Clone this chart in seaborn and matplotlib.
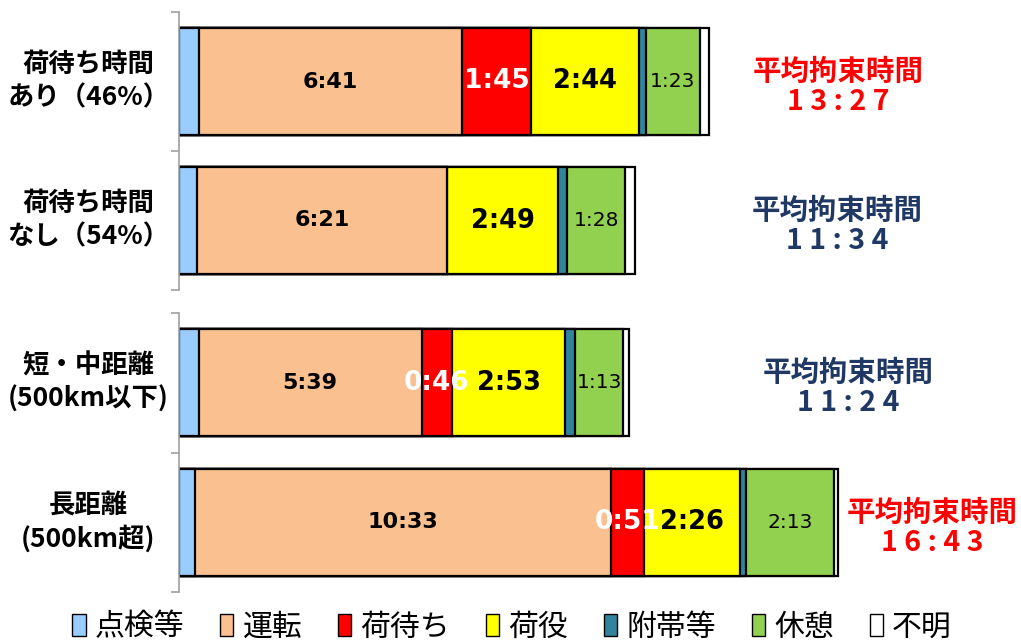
import matplotlib
matplotlib.use("Agg")
import matplotlib.pyplot as plt
from matplotlib.patches import Patch
import numpy as np
import pandas as pd
import seaborn as sns

# data (minutes)
labels = ['荷待ち時間\nあり（46%）', '荷待ち時間\nなし（54%）',
          '短・中距離\n(500km以下)', '長距離\n(500km超)']
inspection = [30, 27, 30, 24]
driving = [401, 381, 339, 633]
waiting = [105, 0, 46, 51]
cargo = [164, 169, 173, 146]
incidental = [10, 14, 15, 9]
rest = [83, 88, 73, 133]
unknown = [14, 15, 8, 7]
totals = ['13:27', '11:34', '11:24', '16:43']
total_colors = ['#FF0000', '#1F3864', '#1F3864', '#FF0000']
total_x = [1003, 1002, 1018, 1146]

seg_names = ['点検等', '運転', '荷待ち', '荷役', '附帯等', '休憩', '不明']
seg_colors = ['#99CCFF', '#FAC090', '#FF0000', '#FFFF00', '#31849B', '#92D050', '#FFFFFF']

sns.set_theme(style='white')
plt.rcParams['font.family'] = ['Noto Sans CJK JP', 'DejaVu Sans']
plt.rcParams['text.color'] = 'black'

df = pd.DataFrame({'label': labels, '点検等': inspection, '運転': driving,
                   '荷待ち': waiting, '荷役': cargo, '附帯等': incidental,
                   '休憩': rest, '不明': unknown})
cum = df[seg_names].cumsum(axis=1)


def hm(m):
    return f'{m // 60}:{m % 60:02d}'


fig = plt.figure(figsize=(10.21, 6.43), dpi=100)
W = 1021.0
H = 643.0
ax1 = fig.add_axes([179 / W, 1 - 290 / H, 1 - 179 / W, 278 / H])
ax2 = fig.add_axes([179 / W, 1 - 592 / H, 1 - 179 / W, 279 / H])

for k, ax in enumerate([ax1, ax2]):
    rows = [2 * k, 2 * k + 1]
    sub = df.iloc[rows]
    subcum = cum.iloc[rows]
    # stacked: draw cumulative bars from longest to shortest
    for i in range(len(seg_names) - 1, -1, -1):
        sns.barplot(x=subcum[seg_names[i]].values, y=sub['label'].values, orient='h',
                    color=seg_colors[i], saturation=1, edgecolor='black',
                    linewidth=1.6, width=0.77, ax=ax)
    ax.set_xlim(0, 1281)
    ax.set_ylim(1.5, -0.5)
    ax.set_xlabel('')
    ax.set_ylabel('')
    ax.set_xticks([])
    ax.set_yticks([-0.5, 0.5, 1.5])
    ax.set_yticklabels([])
    ax.tick_params(axis='y', length=6, width=1.2, color='#A0A0A0', direction='out', left=True)
    for s in ['top', 'right', 'bottom']:
        ax.spines[s].set_visible(False)
    ax.spines['left'].set_color('#A0A0A0')
    ax.spines['left'].set_linewidth(1.2)
    ax.patch.set_alpha(0)

    for j, r in enumerate(rows):
        c = cum.iloc[r]
        # category label
        ax.text(-138, j, labels[r], ha='center', va='center', fontsize=19,
                fontweight='bold', linespacing=1.3, clip_on=False)
        # segment labels
        ax.text(c['点検等'] + driving[r] / 2, j, hm(driving[r]), ha='center', va='center',
                fontsize=16, fontweight='bold', family='DejaVu Sans')
        if waiting[r] > 0:
            ax.text(c['運転'] + waiting[r] / 2, j, hm(waiting[r]), ha='center', va='center',
                    fontsize=19, fontweight='bold', color='white', family='DejaVu Sans')
        ax.text(c['荷待ち'] + cargo[r] / 2, j, hm(cargo[r]), ha='center', va='center',
                fontsize=18.5, fontweight='bold', family='DejaVu Sans')
        ax.text(c['附帯等'] + rest[r] / 2, j, hm(rest[r]), ha='center', va='center',
                fontsize=14.5, family='DejaVu Sans')
        # totals on the right
        ax.text(total_x[r], j + 0.04, '平均拘束時間\n' + ' '.join(totals[r]),
                ha='center', va='center', fontsize=20.5, fontweight='bold',
                color=total_colors[r], linespacing=1.1, clip_on=False)

handles = [Patch(facecolor=c, edgecolor='black', linewidth=1) for c in seg_colors]
fig.legend(handles, seg_names, loc='center', bbox_to_anchor=(512 / W, 1 - 627 / H),
           ncol=7, frameon=False, fontsize=21.5, handlelength=0.45, handleheight=0.75,
           handletextpad=0.3, columnspacing=1.2)

fig.savefig('out.png', dpi=100)
